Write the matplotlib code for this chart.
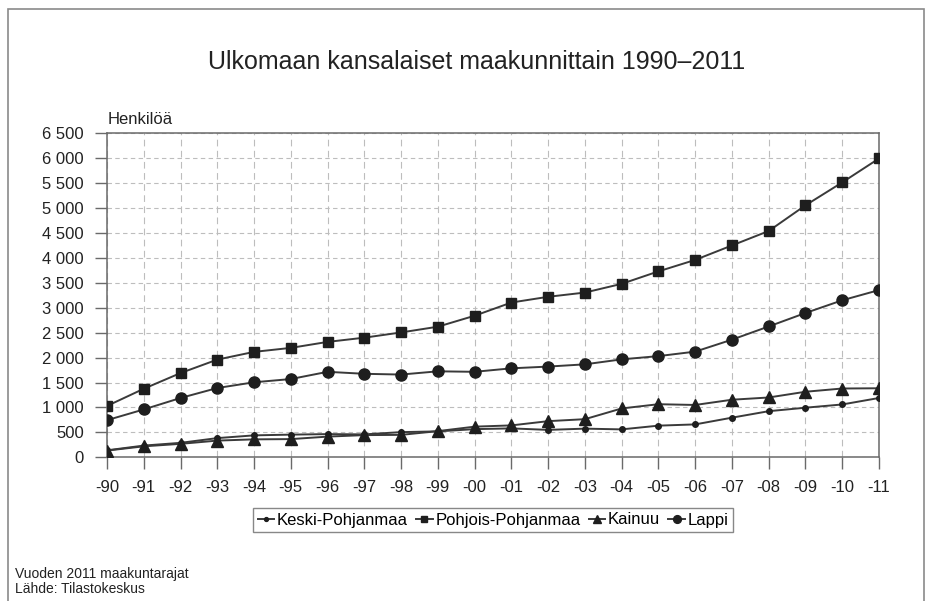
import matplotlib.pyplot as plt
from matplotlib.patches import Rectangle
from matplotlib.ticker import FuncFormatter

plt.rcParams['font.family'] = ['Liberation Sans', 'DejaVu Sans']

# data
years = list(range(1990, 2012))
year_labels = ["-90", "-91", "-92", "-93", "-94", "-95", "-96", "-97", "-98", "-99",
               "-00", "-01", "-02", "-03", "-04", "-05", "-06", "-07", "-08", "-09",
               "-10", "-11"]

keski_pohjanmaa = [140, 235, 290, 385, 440, 455, 465, 460, 505, 520,
                   565, 580, 550, 575, 560, 635, 660, 795, 925, 995,
                   1060, 1190]
pohjois_pohjanmaa = [1030, 1375, 1690, 1960, 2115, 2195, 2315, 2400, 2505, 2620,
                     2840, 3105, 3220, 3305, 3480, 3730, 3960, 4250, 4540, 5055,
                     5515, 5995]
kainuu = [135, 220, 270, 335, 360, 365, 415, 445, 450, 525,
          615, 640, 725, 765, 980, 1065, 1050, 1155, 1200, 1315,
          1380, 1385]
lappi = [745, 960, 1190, 1390, 1505, 1570, 1715, 1675, 1660, 1725,
         1715, 1785, 1820, 1865, 1965, 2030, 2120, 2360, 2625, 2895,
         3150, 3355]

series = [
    ("Keski-Pohjanmaa", keski_pohjanmaa, "o", 4),
    ("Pohjois-Pohjanmaa", pohjois_pohjanmaa, "s", 6.5),
    ("Kainuu", kainuu, "^", 8),
    ("Lappi", lappi, "o", 8),
]

fig = plt.figure(figsize=(9.3, 6.01), dpi=100)
ax = fig.add_axes([107 / 930, 1 - 457.3 / 601, (879 - 107) / 930, (457.3 - 133.3) / 601])

# outer frame around the whole picture
fig.patches.append(Rectangle((8 / 930, -0.05), 916 / 930, 1.035, transform=fig.transFigure,
                             fill=False, edgecolor="#8a8a8a", linewidth=1.2))

handles = []
for name, vals, marker, ms in series:
    h, = ax.plot(years, vals, color="#3a3a3a", linewidth=1.4, marker=marker, markersize=ms,
                 markerfacecolor="#1e1e1e", markeredgecolor="#1e1e1e", label=name, zorder=3)
    handles.append(h)

ax.set_xlim(years[0], years[-1])
ax.set_ylim(0, 6500)
ax.set_yticks(range(0, 6501, 500))
ax.yaxis.set_major_formatter(FuncFormatter(lambda v, p: f"{int(v):,}".replace(",", " ")))
ax.set_xticks(years)
ax.set_xticklabels(year_labels)

ax.grid(axis="y", color="#bdbdbd", linestyle=(0, (4, 3)), linewidth=0.8)
ax.grid(axis="x", color="#bdbdbd", linestyle=(0, (6, 4)), linewidth=0.8)
ax.set_axisbelow(True)

for s in ax.spines.values():
    s.set_color("#6a6a6a")
    s.set_linewidth(1.1)
ax.tick_params(length=8.5, width=1, color="#6a6a6a", labelsize=12, labelcolor="#222222", pad=8)

fig.text(477 / 930, 1 - 62 / 601, "Ulkomaan kansalaiset maakunnittain 1990\u20132011",
         ha="center", va="center", fontsize=18, color="#222222")
fig.text(108 / 930, 1 - 120 / 601, "Henkilöä", ha="left", va="center", fontsize=12,
         color="#222222")
fig.text(15 / 930, 1 - 574 / 601, "Vuoden 2011 maakuntarajat", ha="left", va="center",
         fontsize=10, color="#222222")
fig.text(15 / 930, 1 - 589 / 601, "Lähde: Tilastokeskus", ha="left", va="center",
         fontsize=10, color="#222222")

leg = fig.legend(handles=handles, loc="center", bbox_to_anchor=(493 / 930, 1 - 520 / 601),
                 ncol=4, fontsize=12, frameon=True, fancybox=False, handlelength=1.0,
                 handletextpad=0.15, columnspacing=0.5, borderpad=0.25, markerscale=0.7)
leg.get_frame().set_edgecolor("#6a6a6a")
leg.get_frame().set_linewidth(1)

fig.savefig("out.png", dpi=100)
